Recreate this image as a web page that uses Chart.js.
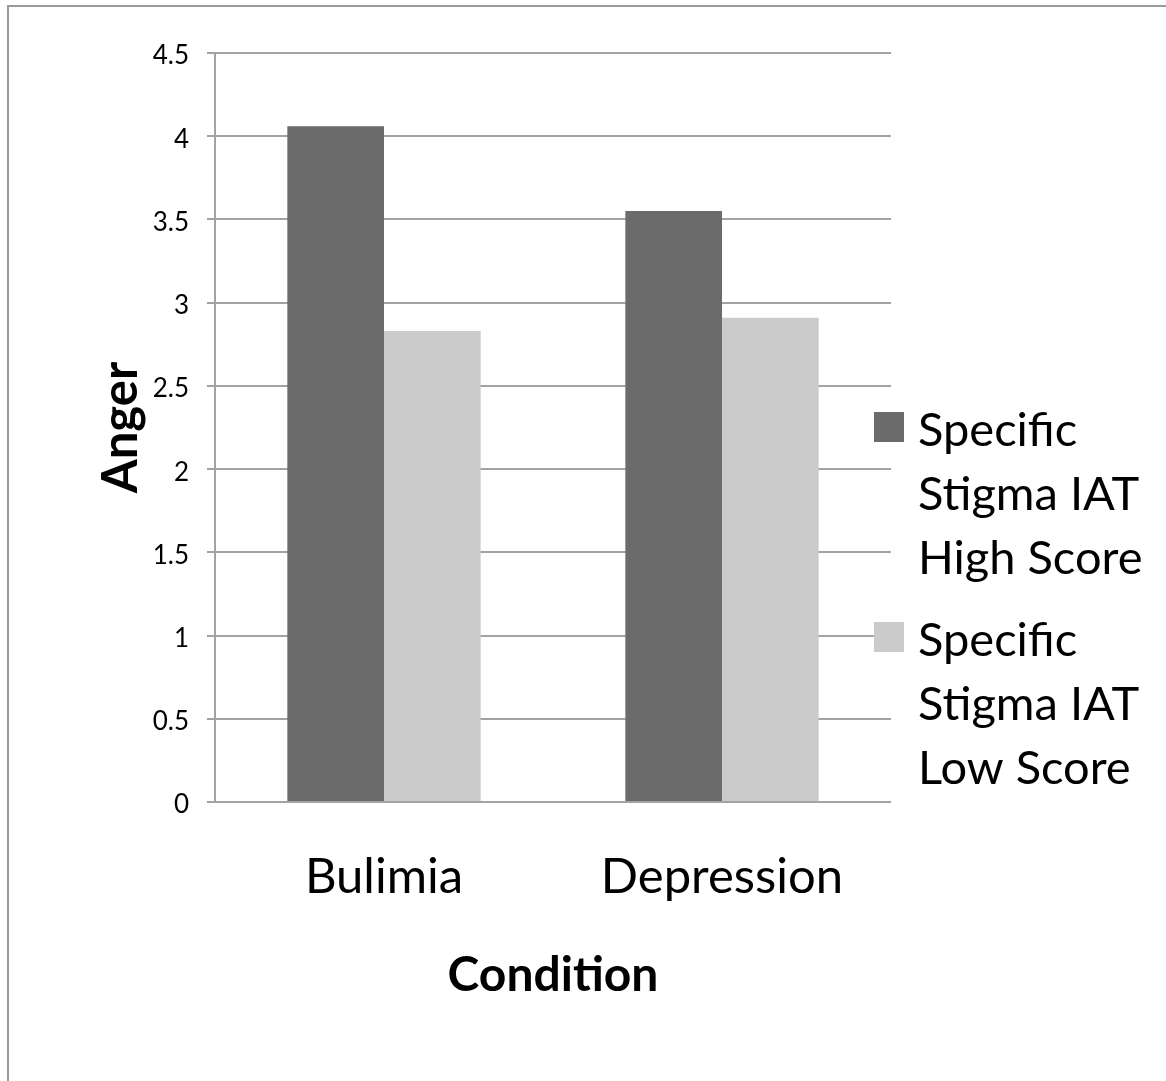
<!DOCTYPE html>
<html>
<head>
<meta charset="utf-8">
<script src="https://cdn.jsdelivr.net/npm/chart.js@4/dist/chart.umd.min.js"></script>
<style>
  html, body { margin: 0; padding: 0; background: #ffffff; }
  #wrap { position: relative; width: 1166px; height: 1081px; overflow: hidden; }
  #frame { position: absolute; left: 7px; top: 5px; right: -10px; bottom: -10px;
           border-left: 2px solid #9a9a9a; border-top: 2px solid #9a9a9a; }
  #chart { position: absolute; left: 0; top: 0; }
</style>
</head>
<body>
<div id="wrap">
  <div id="frame"></div>
  <canvas id="chart" width="1166" height="1081"></canvas>
</div>
<script>
// Mean anger ratings by condition and IAT score group
const categories = ['Bulimia', 'Depression'];
const highScore = [4.06, 3.55];
const lowScore = [2.83, 2.91];
const seriesLines = [
  ['Specific', 'Stigma IAT', 'High Score'],
  ['Specific', 'Stigma IAT', 'Low Score']
];
const seriesColors = ['#6b6b6b', '#cbcbcb'];
const yTickLabels = ['0', '0.5', '1', '1.5', '2', '2.5', '3', '3.5', '4', '4.5'];

const FONT = 'Lato, Carlito, Calibri, sans-serif';

// Legend drawn at the right, one block of wrapped lines per series
const sideLegend = {
  id: 'sideLegend',
  afterDraw(chart) {
    const ctx = chart.ctx;
    const boxX = 874, boxSize = 30, textX = 918, lineH = 64;
    const firstBaseline = [446, 656];
    ctx.save();
    ctx.font = '47px ' + FONT;
    ctx.textBaseline = 'alphabetic';
    ctx.textAlign = 'left';
    chart.data.datasets.forEach((ds, i) => {
      const base = firstBaseline[i];
      ctx.fillStyle = ds.backgroundColor;
      ctx.fillRect(boxX, base - 34, boxSize, boxSize);
      ctx.fillStyle = '#000000';
      seriesLines[i].forEach((line, j) => {
        ctx.fillText(line, textX, base + j * lineH);
      });
    });
    ctx.restore();
  }
};

new Chart(document.getElementById('chart'), {
  type: 'bar',
  data: {
    labels: categories,
    datasets: [
      { label: seriesLines[0].join(' '), data: highScore, backgroundColor: seriesColors[0] },
      { label: seriesLines[1].join(' '), data: lowScore, backgroundColor: seriesColors[1] }
    ]
  },
  options: {
    responsive: false,
    devicePixelRatio: 1,
    animation: false,
    layout: { padding: { left: 0, top: 53, right: 275, bottom: 0 } },
    datasets: { bar: { categoryPercentage: 0.572, barPercentage: 1.0 } },
    plugins: {
      legend: { display: false },
      tooltip: { enabled: false }
    },
    scales: {
      x: {
        grid: { display: false },
        border: { display: false },
        ticks: { color: '#000000', font: { family: FONT, size: 49 }, padding: 38 },
        title: {
          display: true, text: 'Condition', color: '#000000',
          font: { family: FONT, size: 48, weight: 'bold' },
          padding: { top: 0, bottom: 77 }
        },
        afterFit(scale) { scale.height = 279; }
      },
      y: {
        min: 0, max: 4.5,
        grid: { color: '#a3a3a3', lineWidth: 2, tickLength: 8, drawTicks: true, tickColor: '#a3a3a3' },
        border: { display: true, color: '#a3a3a3', width: 2 },
        ticks: {
          stepSize: 0.5, color: '#000000', padding: 18, labelOffset: 3,
          font: { family: FONT, size: 26 },
          callback: (v, i) => yTickLabels[i]
        },
        title: {
          display: true, text: 'Anger', color: '#000000',
          font: { family: FONT, size: 49, weight: 'bold' },
          padding: { top: 92, bottom: 0 }
        },
        afterFit(scale) { scale.width = 215; }
      }
    }
  },
  plugins: [sideLegend]
});
</script>
</body>
</html>
